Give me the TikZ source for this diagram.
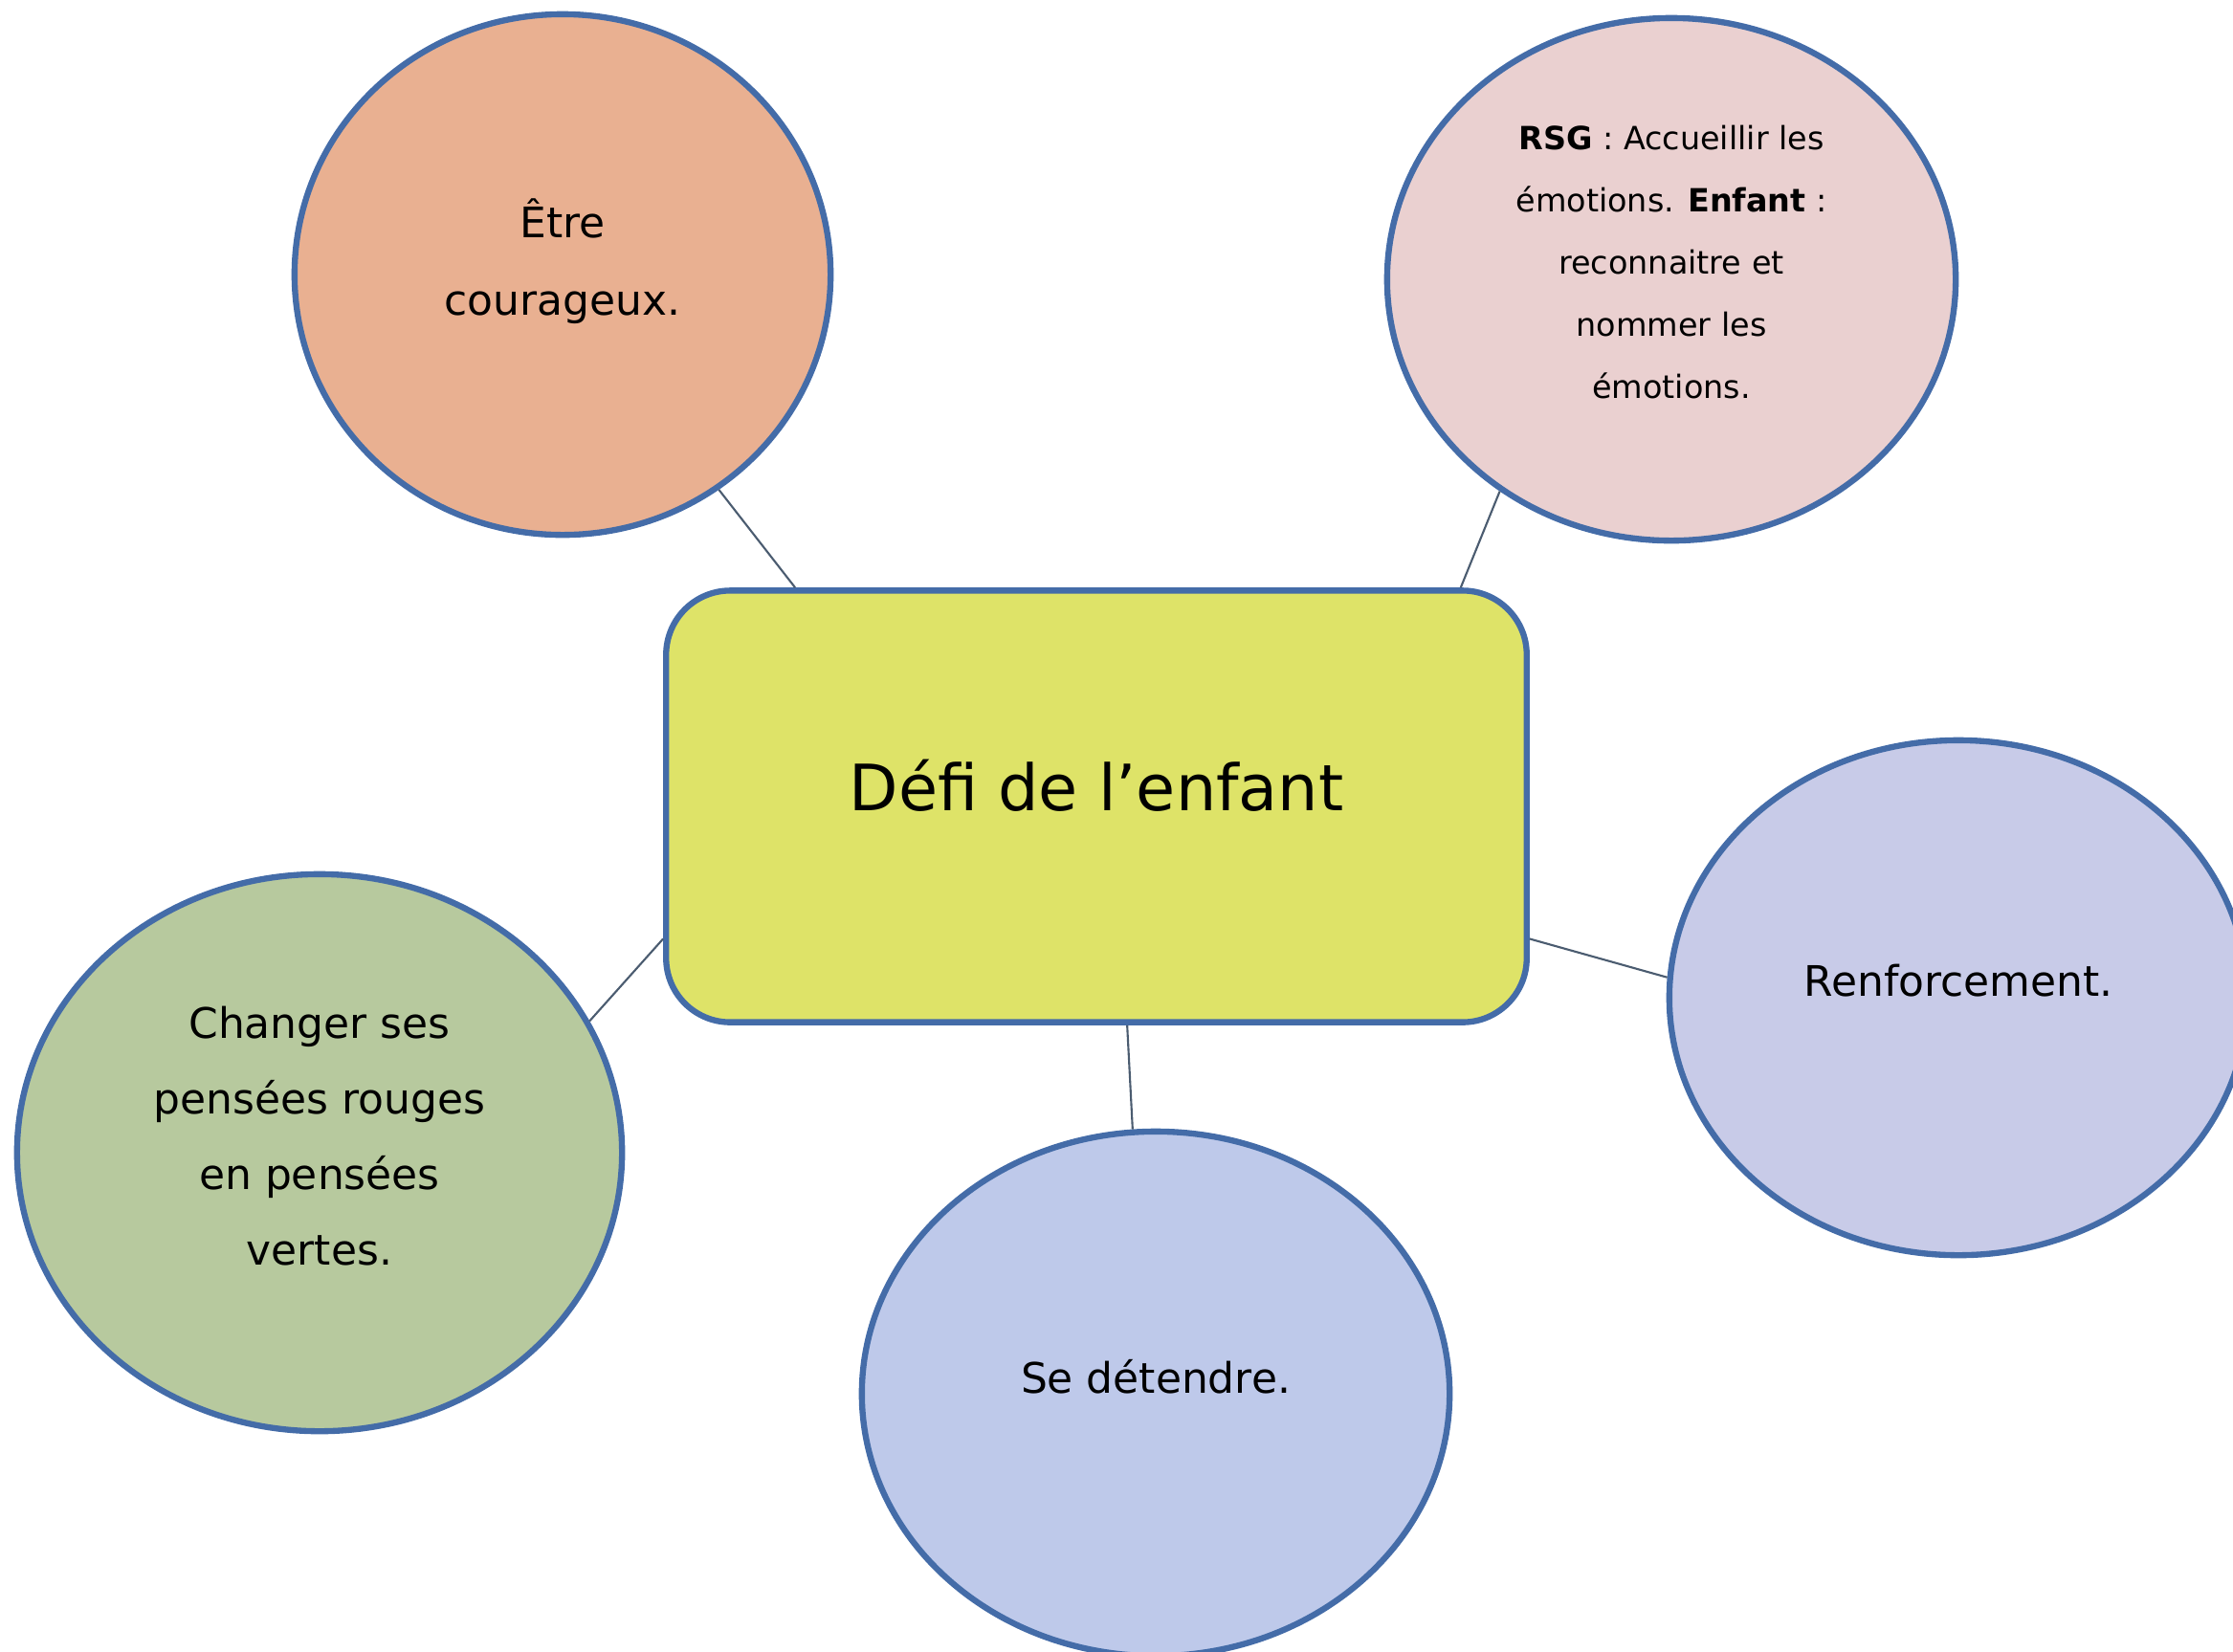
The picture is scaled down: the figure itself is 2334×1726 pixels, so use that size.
\documentclass[tikz,border=0pt]{standalone}
\usepackage{fontspec}
\setmainfont{DejaVu Sans}
\usetikzlibrary{shapes.geometric}

\definecolor{bordure}{RGB}{68,108,168}
\definecolor{trait}{RGB}{75,92,112}
\definecolor{jaune}{RGB}{222,227,104}
\definecolor{peche}{RGB}{233,176,145}
\definecolor{rose}{RGB}{234,208,208}
\definecolor{lavande}{RGB}{200,203,232}
\definecolor{bleuciel}{RGB}{190,201,234}
\definecolor{vert}{RGB}{183,201,158}

\begin{document}
\begin{tikzpicture}[x=0.01cm,y=-0.01cm]
      \tikzstyle{bulle}=[shape=ellipse,draw=bordure,line width=1.8pt,inner sep=0pt,align=center,text depth=0.36cm,font=\fontsize{12.5}{23}\selectfont];
      \tikzstyle{cadre}=[rectangle,rounded corners=0.67cm,draw=bordure,line width=1.8pt,fill=jaune,minimum width=8.99cm,minimum height=4.51cm,text depth=0.44cm,font=\fontsize{19}{23}\selectfont];
      \tikzstyle{lien}=[draw=trait,line width=0.6pt];

      \clip (0,0) rectangle (2334,1726);

      \node[cadre](defi) at (1146,843) {Défi de l’enfant};
      \node[bulle,fill=peche,minimum width=5.6cm,minimum height=5.44cm](etre) at (588,287) {Être\\courageux.};
      \node[bulle,fill=rose,minimum width=5.94cm,minimum height=5.46cm,font=\fontsize{9.5}{18.5}\selectfont](rsg) at (1747,292)
        {\textbf{RSG} : Accueillir les\\émotions. \textbf{Enfant} :\\reconnaitre et\\nommer les\\émotions.};
      \node[bulle,fill=lavande,minimum width=6.04cm,minimum height=5.38cm](renfo) at (2047,1043) {Renforcement.};
      \node[bulle,fill=bleuciel,minimum width=6.14cm,minimum height=5.48cm](detente) at (1208,1457) {Se détendre.};
      \node[bulle,fill=vert,minimum width=6.32cm,minimum height=5.82cm,font=\fontsize{12.5}{22.5}\selectfont](pensees) at (334,1205)
        {Changer ses\\pensées rouges\\en pensées\\vertes.};

      \path[lien] (defi.144) edge (etre.-54);
      \path[lien] (defi.31) edge (rsg.231);
      \path[lien] (defi.197) edge (pensees.26);
      \path[lien] (defi.343) edge (renfo.176);
      \path[lien] (defi.278) edge (detente.95);

    \end{tikzpicture}
\end{document}
